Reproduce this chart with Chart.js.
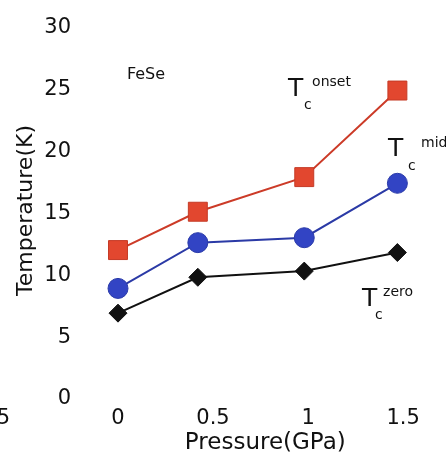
<!DOCTYPE html>
<html>
<head>
<meta charset="utf-8">
<script src="https://cdn.jsdelivr.net/npm/chart.js@4/dist/chart.umd.min.js"></script>
<style>
  html, body { margin: 0; padding: 0; background: #fff; }
  #wrap { width: 446px; height: 458px; }
</style>
</head>
<body>
<div id="wrap"><canvas id="tcChart" width="446" height="458"></canvas></div>
<script>
// pressure (GPa) and Tc values
const pressure = [0, 0.42, 0.98, 1.47];
const tcOnset = [11.8, 14.9, 17.7, 24.7];
const tcMid = [8.7, 12.4, 12.8, 17.2];
const tcZero = [6.7, 9.6, 10.1, 11.6];
const yTicks = [0, 5, 10, 15, 20, 25, 30];
const xTicks = [0, 0.5, 1, 1.5];

const toPoints = (vals) => pressure.map((p, i) => ({x: p, y: vals[i]}));

// text labels placed in data coords
const notes = [
  {text: 'FeSe', x: 0.047, y: 26.0, size: 16},
];
const tcLabels = [
  {sup: 'onset', x: 0.895, y: 24.8, cdx: 16, sdx: 24},
  {sup: 'mid', x: 1.421, y: 19.9, cdx: 20, sdx: 33},
  {sup: 'zero', x: 1.284, y: 7.8, cdx: 13, sdx: 21},
];

const labelPlugin = {
  id: 'labels',
  afterDraw(chart) {
    const {ctx, scales: {x, y}} = chart;
    ctx.save();
    ctx.fillStyle = '#111';
    ctx.textBaseline = 'middle';
    ctx.textAlign = 'left';
    notes.forEach(n => {
      ctx.font = `${n.size}px "DejaVu Sans"`;
      ctx.fillText(n.text, x.getPixelForValue(n.x), y.getPixelForValue(n.y));
    });
    tcLabels.forEach(l => {
      const px = x.getPixelForValue(l.x);
      const py = y.getPixelForValue(l.y);
      ctx.font = '25px "DejaVu Sans"';
      ctx.fillText('T', px, py);
      ctx.font = '14px "DejaVu Sans"';
      ctx.fillText('c', px + l.cdx, py + 16);
      ctx.fillText(l.sup, px + l.sdx, py - 7);
    });
    // cut-off tick label from the neighbouring panel
    ctx.font = '21px "DejaVu Sans"';
    ctx.textAlign = 'right';
    ctx.fillText('5', 10, 419);
    ctx.restore();
  }
};

new Chart(document.getElementById('tcChart'), {
  type: 'scatter',
  data: {
    datasets: [
      {
        label: 'Tc onset',
        data: toPoints(tcOnset),
        showLine: true,
        borderColor: '#cc3b28',
        backgroundColor: '#e2472f',
        borderWidth: 2,
        pointStyle: 'rect',
        pointRadius: 13.4,
        pointBorderWidth: 1,
        pointBorderColor: '#c53a26'
      },
      {
        label: 'Tc mid',
        data: toPoints(tcMid),
        showLine: true,
        borderColor: '#2b3aa6',
        backgroundColor: '#3244c4',
        borderWidth: 2,
        pointStyle: 'circle',
        pointRadius: 10,
        pointBorderWidth: 1,
        pointBorderColor: '#2a3aa8'
      },
      {
        label: 'Tc zero',
        data: toPoints(tcZero),
        showLine: true,
        borderColor: '#111',
        backgroundColor: '#111',
        borderWidth: 2,
        pointStyle: 'rectRot',
        pointRadius: 9,
        pointBorderWidth: 1,
        pointBorderColor: '#111'
      }
    ]
  },
  options: {
    responsive: false,
    animation: false,
    events: [],
    layout: {padding: {top: 25, right: 5, left: 0, bottom: 0}},
    plugins: {legend: {display: false}, tooltip: {enabled: false}},
    scales: {
      x: {
        type: 'linear',
        min: -0.1,
        max: 1.65,
        afterBuildTicks: (s) => { s.ticks = xTicks.map(v => ({value: v})); },
        afterFit: (s) => { s.height = 62; },
        grid: {display: false, drawTicks: false},
        border: {display: false},
        ticks: {
          color: '#111',
          padding: 10,
          font: {family: 'DejaVu Sans', size: 21},
          callback: (v) => String(v)
        },
        title: {
          display: true,
          text: 'Pressure(GPa)',
          color: '#111',
          font: {family: 'DejaVu Sans', size: 23},
          padding: {top: 0, bottom: 1}
        }
      },
      y: {
        min: 0,
        max: 30,
        afterBuildTicks: (s) => { s.ticks = yTicks.map(v => ({value: v})); },
        afterFit: (s) => { s.width = 99; s.paddingTop = 0; s.paddingBottom = 0; },
        grid: {display: false, drawTicks: false},
        border: {display: false},
        ticks: {
          color: '#111',
          padding: 28,
          labelOffset: 3,
          font: {family: 'DejaVu Sans', size: 21}
        },
        title: {
          display: true,
          text: 'Temperature(K)',
          color: '#111',
          font: {family: 'DejaVu Sans', size: 22},
          padding: {top: 13, bottom: 0}
        }
      }
    }
  },
  plugins: [labelPlugin]
});
</script>
</body>
</html>
